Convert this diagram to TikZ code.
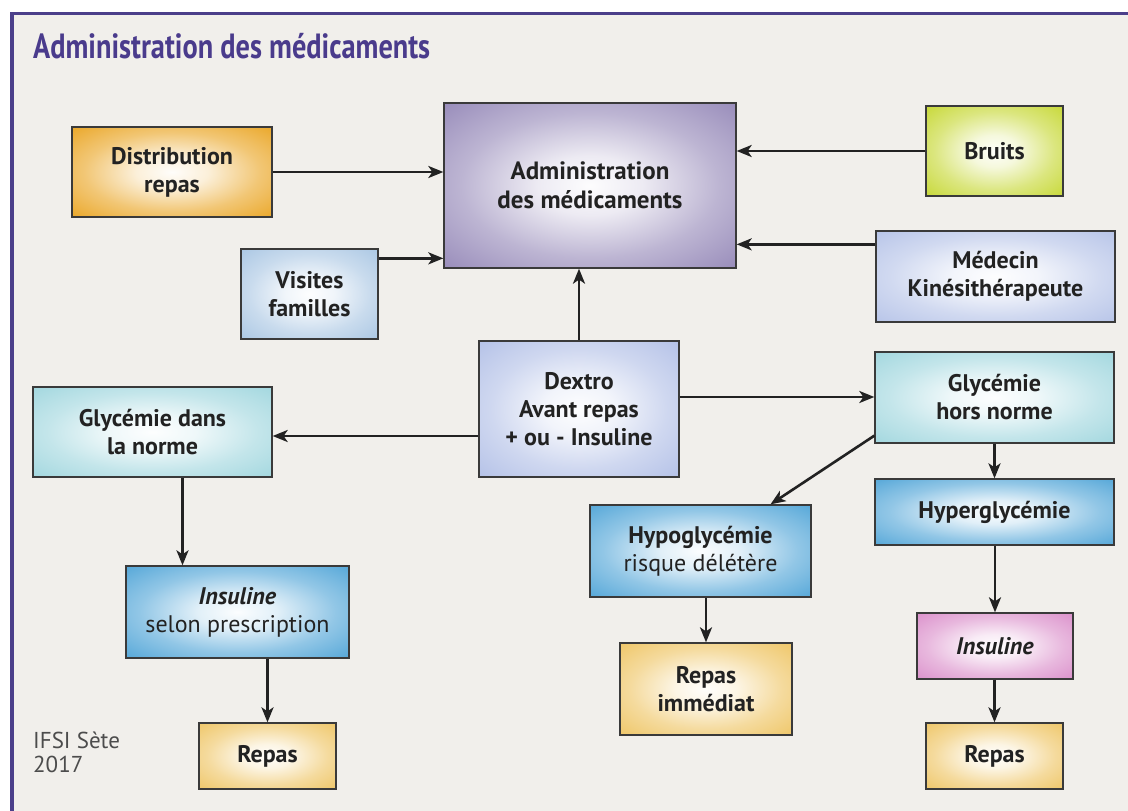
\documentclass[tikz,border=0pt]{standalone}
\usepackage{fontspec}
\setmainfont{PT Sans}
\usetikzlibrary{arrows.meta}
\definecolor{bgc}{HTML}{F1EFEB}
\definecolor{framec}{HTML}{4B3F8A}
\definecolor{titlec}{HTML}{4A3B8C}
\definecolor{borderc}{HTML}{3A3A3A}
\definecolor{txtc}{HTML}{222222}
\definecolor{cOrange}{HTML}{E9A21C}
\definecolor{cPurple}{HTML}{9285B6}
\definecolor{cLime}{HTML}{C4D62C}
\definecolor{cVisit}{HTML}{A6C4E2}
\definecolor{cMed}{HTML}{B3C1E7}
\definecolor{cDex}{HTML}{B0BEE6}
\definecolor{cTeal}{HTML}{9DD5DD}
\definecolor{cBlue}{HTML}{4BA2D6}
\definecolor{cPink}{HTML}{D98AC8}
\definecolor{cYellow}{HTML}{EEC35F}
\colorlet{glowA}{white}
\colorlet{glowB}{gray}
\pgfdeclareradialshading[glowA,glowB]{glow}{\pgfpointorigin}{color(0bp)=(glowA);color(9bp)=(glowA!85!glowB);color(22bp)=(glowA!40!glowB);color(38bp)=(glowB);color(50bp)=(glowB)}
\tikzset{
  box/.style={draw=borderc, line width=1.3pt, align=center, text=txtc,
    font=\bfseries\fontsize{24}{28}\selectfont, inner sep=0pt},
  glowcol/.code={\colorlet{glowB}{#1}\colorlet{glowA}{#1!2!white}\pgfkeysalso{/tikz/shading=glow}},
  arr/.style={draw=txtc, line width=2.6pt, -{Stealth[length=15pt,width=12pt,inset=4pt]}},
}
\begin{document}
\begin{tikzpicture}[x=1pt,y=1pt]
\useasboundingbox (0,0) rectangle (1128,-811);
\fill[white] (0,0) rectangle (1128,-811);
\fill[bgc] (10,-12) rectangle (1128,-811);
\draw[framec, line width=3.5pt] (12,-811) -- (12,-13.5) -- (1128,-13.5);
\node[anchor=base west, text=titlec, font=\bfseries\fontsize{35}{38}\selectfont, inner sep=0pt] (title) at (33,-58) {\scalebox{0.81}[1]{Administration des médicaments}};
\node[anchor=base west, text=black!70, font=\fontsize{23}{24}\selectfont, align=left, inner sep=0pt] (ifsi) at (33,-772) {IFSI Sète\\2017};

\node[box, glowcol=cOrange, minimum width=200pt, minimum height=90pt] (dist) at (172,-172) {Distribution\\repas};
\node[box, glowcol=cPurple, minimum width=292pt, minimum height=165pt, font=\bfseries\fontsize{25}{29}\selectfont] (admin) at (590,-185.5) {Administration\\des médicaments};
\node[box, glowcol=cLime, minimum width=137pt, minimum height=90pt] (bruits) at (994.5,-151) {Bruits};
\node[box, glowcol=cVisit, minimum width=137pt, minimum height=90pt] (visites) at (309.5,-294) {Visites\\familles};
\node[box, glowcol=cMed, minimum width=239pt, minimum height=91pt] (medecin) at (995.5,-276.5) {Médecin\\Kinésithérapeute};
\node[box, glowcol=cDex, minimum width=200pt, minimum height=136pt] (dextro) at (579,-409) {Dextro\\Avant repas\\+ ou - Insuline};
\node[box, glowcol=cTeal, minimum width=239pt, minimum height=90pt] (gnorme) at (152.5,-432) {Glycémie dans\\la norme};
\node[box, glowcol=cTeal, minimum width=239pt, minimum height=91pt] (ghors) at (994.5,-397.5) {Glycémie\\hors norme};
\node[box, glowcol=cBlue, minimum width=239pt, minimum height=66pt] (hyper) at (994.5,-512) {Hyperglycémie};
\node[box, glowcol=cBlue, minimum width=221pt, minimum height=92pt] (hypo) at (700.5,-551) {Hypoglycémie\\{\mdseries risque délétère}};
\node[box, glowcol=cBlue, minimum width=223pt, minimum height=92pt] (insel) at (237.5,-612) {\textit{Insuline}\\{\mdseries selon prescription}};
\node[box, glowcol=cPink, minimum width=156pt, minimum height=66pt] (insul) at (995,-646) {\textit{Insuline}};
\node[box, glowcol=cYellow, minimum width=172pt, minimum height=92pt] (rimm) at (706,-689) {Repas\\immédiat};
\node[box, glowcol=cYellow, minimum width=137pt, minimum height=66pt] (repL) at (267.5,-756) {Repas};
\node[box, glowcol=cYellow, minimum width=137pt, minimum height=66pt] (repR) at (994.5,-756) {Repas};

\draw[arr] (dist.east) -- (dist.east -| admin.west);
\draw[arr] ([yshift=-10pt]visites.north east) -- ([yshift=-10pt]visites.north east -| admin.west);
\draw[arr] (bruits.west) -- (bruits.west -| admin.east);
\draw[arr] ([yshift=-14pt]medecin.north west) -- ([yshift=-14pt]medecin.north west -| admin.east);
\draw[arr] (dextro.north) -- (dextro.north |- admin.south);
\draw[arr] ([yshift=-27pt]dextro.west) -- ([yshift=-27pt]dextro.west -| gnorme.east);
\draw[arr] ([yshift=12pt]dextro.east) -- ([yshift=12pt]dextro.east -| ghors.west);
\draw[arr] ([yshift=8pt]ghors.south west) -- ([xshift=70pt]hypo.north);
\draw[arr] (ghors.south) -- (hyper.north);
\draw[arr] (insul.north |- hyper.south) -- (insul.north);
\draw[arr] (insul.south -| repR.north) -- (repR.north);
\draw[arr] (hypo.south -| rimm.north) -- (rimm.north);
\draw[arr] ([xshift=30pt]gnorme.south) -- ([xshift=30pt]gnorme.south |- insel.north);
\draw[arr] (repL.north |- insel.south) -- (repL.north);
\end{tikzpicture}
\end{document}
